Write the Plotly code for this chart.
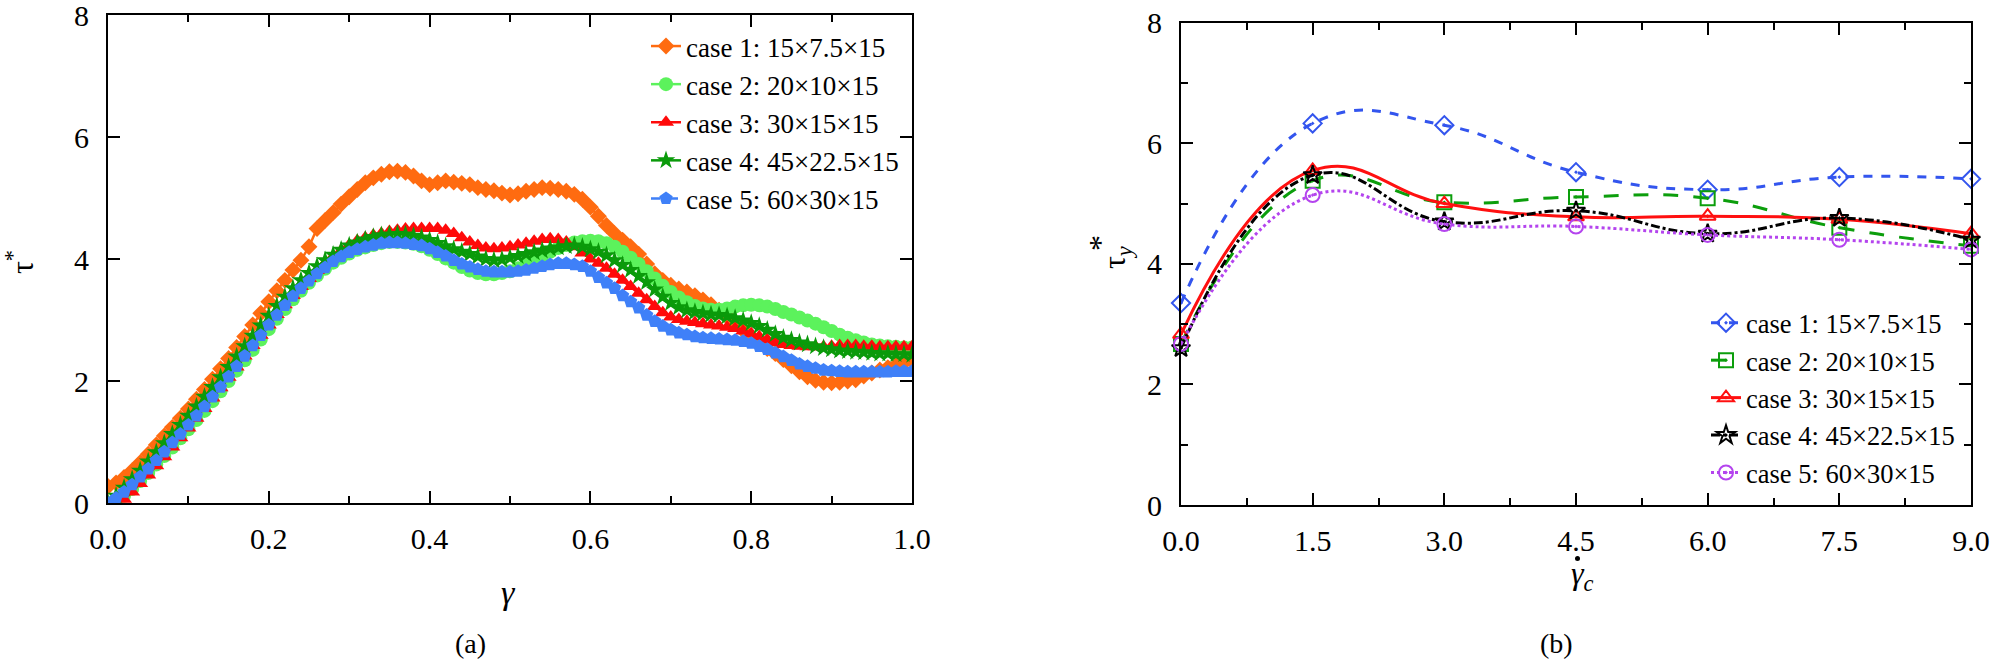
import plotly.graph_objects as go

# ---- (a) normalised stress vs strain, five mesh sizes ----
gamma = [round(i * 0.01, 2) for i in range(101)]

tau_case1 = [0.27, 0.33, 0.42, 0.53, 0.66, 0.80, 0.95, 1.10, 1.24, 1.39,
             1.54, 1.70, 1.86, 2.03, 2.20, 2.37, 2.55, 2.73, 2.92, 3.11,
             3.30, 3.48, 3.65, 3.82, 3.98, 4.20, 4.50, 4.63, 4.76, 4.90,
             5.02, 5.14, 5.25, 5.33, 5.39, 5.43, 5.44, 5.42, 5.36, 5.28,
             5.22, 5.25, 5.28, 5.26, 5.24, 5.22, 5.17, 5.14, 5.12, 5.08,
             5.05, 5.07, 5.11, 5.14, 5.17, 5.16, 5.14, 5.11, 5.06, 4.98,
             4.85, 4.70, 4.55, 4.42, 4.31, 4.20, 4.08, 3.92, 3.76, 3.65,
             3.57, 3.51, 3.46, 3.40, 3.33, 3.25, 3.16, 3.06, 2.95, 2.83,
             2.72, 2.62, 2.53, 2.45, 2.35, 2.25, 2.15, 2.07, 2.01, 1.98,
             1.97, 1.98, 2.00, 2.02, 2.08, 2.13, 2.18, 2.22, 2.26, 2.30,
             2.34]
tau_case2 = [0.00, 0.04, 0.12, 0.23, 0.36, 0.49, 0.63, 0.77, 0.91, 1.06,
             1.21, 1.36, 1.51, 1.67, 1.83, 2.00, 2.17, 2.34, 2.51, 2.68,
             2.85, 3.02, 3.18, 3.34, 3.48, 3.61, 3.73, 3.84, 3.94, 4.02,
             4.09, 4.15, 4.19, 4.23, 4.26, 4.28, 4.28, 4.27, 4.25, 4.21,
             4.15, 4.08, 4.01, 3.94, 3.87, 3.81, 3.77, 3.75, 3.75, 3.77,
             3.80, 3.85, 3.91, 3.98, 4.05, 4.12, 4.18, 4.23, 4.27, 4.29,
             4.30, 4.29, 4.26, 4.20, 4.12, 4.02, 3.92, 3.80, 3.68, 3.56,
             3.46, 3.37, 3.29, 3.23, 3.19, 3.17, 3.17, 3.19, 3.22, 3.24,
             3.25, 3.24, 3.22, 3.18, 3.13, 3.09, 3.04, 2.99, 2.94, 2.88,
             2.82, 2.76, 2.71, 2.67, 2.63, 2.60, 2.58, 2.57, 2.56, 2.55,
             2.55]
tau_case3 = [0.00, 0.00, 0.06, 0.18, 0.32, 0.46, 0.61, 0.76, 0.92, 1.07,
             1.23, 1.39, 1.55, 1.72, 1.89, 2.06, 2.23, 2.41, 2.58, 2.75,
             2.92, 3.09, 3.25, 3.40, 3.55, 3.68, 3.81, 3.93, 4.04, 4.14,
             4.23, 4.30, 4.35, 4.39, 4.42, 4.45, 4.47, 4.49, 4.50, 4.50,
             4.50, 4.50, 4.47, 4.42, 4.35, 4.28, 4.22, 4.18, 4.17, 4.18,
             4.20, 4.23, 4.26, 4.29, 4.32, 4.33, 4.32, 4.28, 4.20, 4.10,
             4.00, 3.93, 3.85, 3.75, 3.65, 3.55, 3.44, 3.33, 3.22, 3.12,
             3.05, 3.01, 2.98, 2.96, 2.94, 2.92, 2.90, 2.88, 2.86, 2.82,
             2.78, 2.73, 2.68, 2.63, 2.60, 2.58, 2.57, 2.56, 2.56, 2.56,
             2.57, 2.58, 2.58, 2.58, 2.57, 2.57, 2.56, 2.56, 2.56, 2.56,
             2.56]
tau_case4 = [0.00, 0.12, 0.25, 0.39, 0.53, 0.68, 0.83, 0.98, 1.13, 1.28,
             1.43, 1.58, 1.74, 1.90, 2.06, 2.23, 2.40, 2.57, 2.74, 2.91,
             3.07, 3.23, 3.38, 3.52, 3.65, 3.77, 3.88, 3.98, 4.07, 4.15,
             4.22, 4.27, 4.32, 4.36, 4.39, 4.40, 4.41, 4.40, 4.38, 4.35,
             4.31, 4.26, 4.21, 4.16, 4.12, 4.08, 4.04, 4.00, 3.98, 3.99,
             4.02, 4.05, 4.08, 4.11, 4.14, 4.17, 4.19, 4.21, 4.22, 4.20,
             4.16, 4.12, 4.06, 3.98, 3.90, 3.82, 3.72, 3.62, 3.50, 3.38,
             3.28, 3.21, 3.16, 3.13, 3.11, 3.09, 3.08, 3.06, 3.03, 2.99,
             2.95, 2.90, 2.84, 2.77, 2.71, 2.67, 2.63, 2.60, 2.57, 2.54,
             2.52, 2.50, 2.49, 2.48, 2.47, 2.46, 2.45, 2.45, 2.44, 2.44,
             2.43]
tau_case5 = [0.00, 0.08, 0.18, 0.30, 0.43, 0.56, 0.70, 0.84, 0.99, 1.13,
             1.28, 1.43, 1.58, 1.74, 1.90, 2.07, 2.24, 2.41, 2.58, 2.75,
             2.92, 3.08, 3.24, 3.39, 3.52, 3.64, 3.76, 3.86, 3.96, 4.04,
             4.11, 4.16, 4.20, 4.23, 4.26, 4.27, 4.27, 4.26, 4.24, 4.22,
             4.17, 4.11, 4.05, 3.98, 3.92, 3.87, 3.83, 3.80, 3.79, 3.79,
             3.79, 3.80, 3.82, 3.85, 3.88, 3.91, 3.93, 3.93, 3.91, 3.88,
             3.80, 3.70, 3.61, 3.52, 3.40, 3.30, 3.20, 3.08, 2.98, 2.90,
             2.84, 2.79, 2.76, 2.73, 2.71, 2.70, 2.69, 2.68, 2.67, 2.65,
             2.62, 2.57, 2.52, 2.46, 2.40, 2.34, 2.28, 2.24, 2.21, 2.18,
             2.17, 2.16, 2.15, 2.15, 2.15, 2.15, 2.15, 2.15, 2.16, 2.16,
             2.16]

# ---- (b) yield stress vs characteristic shear rate ----
rate = [0.0, 1.5, 3.0, 4.5, 6.0, 7.5, 9.0]
tauy_case1 = [3.35, 6.33, 6.30, 5.52, 5.23, 5.44, 5.41]
tauy_case2 = [2.67, 5.38, 5.02, 5.11, 5.09, 4.60, 4.30]
tauy_case3 = [2.83, 5.55, 5.00, 4.78, 4.79, 4.74, 4.50]
tauy_case4 = [2.60, 5.47, 4.70, 4.88, 4.50, 4.76, 4.40]
tauy_case5 = [2.67, 5.14, 4.66, 4.62, 4.48, 4.40, 4.24]

labels = ["case 1: 15×7.5×15", "case 2: 20×10×15", "case 3: 30×15×15",
          "case 4: 45×22.5×15", "case 5: 60×30×15"]

FONT = "Liberation Serif, Times New Roman, DejaVu Serif, serif"

fig = go.Figure()

# left panel
left_series = [tau_case1, tau_case2, tau_case3, tau_case4, tau_case5]
left_colors = ["#FF6B10", "#5CF25C", "#FF0A0A", "#0A9A0A", "#3F80F8"]
left_symbols = ["diamond", "circle", "triangle-up", "star", "pentagon"]
left_sizes = [13, 14, 14, 14, 14]
left_dash = ["solid", "solid", "solid", "solid", "dash"]

for i in range(5):
    fig.add_trace(go.Scatter(
        x=gamma, y=left_series[i], name=labels[i], mode="lines+markers",
        line=dict(color=left_colors[i], width=2.5, dash=left_dash[i]),
        marker=dict(symbol=left_symbols[i], size=left_sizes[i], color=left_colors[i]),
        xaxis="x", yaxis="y", legend="legend", legendgroup="a%d" % i,
    ))

# right panel
right_series = [tauy_case1, tauy_case2, tauy_case3, tauy_case4, tauy_case5]
right_colors = ["#3355EE", "#0C9E0C", "#FF1010", "#000000", "#B444EE"]
right_symbols = ["diamond-open-dot", "square-open-dot", "triangle-up-open-dot",
                 "star-open-dot", "circle-open-dot"]
right_dash = ["dash", "longdash", "solid", "dashdot", "dot"]

for i in range(5):
    fig.add_trace(go.Scatter(
        x=rate, y=right_series[i], name=labels[i], mode="lines+markers",
        line=dict(color=right_colors[i], width=3, dash=right_dash[i],
                  shape="spline", smoothing=1.3),
        marker=dict(symbol=right_symbols[i], size=14, color=right_colors[i],
                    line=dict(color=right_colors[i], width=2)),
        cliponaxis=False,
        xaxis="x2", yaxis="y2", legend="legend2", legendgroup="b%d" % i,
    ))

W, H = 1992, 660

# automargin off, otherwise the edge tick labels shrink the plot area
axis_style = dict(
    showline=True, linecolor="black", linewidth=2, mirror="ticks",
    ticks="inside", ticklen=12, tickwidth=2, tickcolor="black",
    showgrid=False, zeroline=False, automargin=False, ticklabeloverflow="allow",
    tickfont=dict(family=FONT, size=30, color="black"),
)
minor_style = dict(ticks="inside", ticklen=7, tickwidth=2, tickcolor="black")

fig.update_layout(
    width=W, height=H,
    margin=dict(l=0, r=0, t=0, b=0),
    paper_bgcolor="white", plot_bgcolor="white",
    font=dict(family=FONT, color="black"),
    xaxis=dict(domain=[108 / W, 912 / W], range=[0, 1], dtick=0.2, tickformat=".1f",
               minor=dict(dtick=0.1, **minor_style),
               anchor="y", ticklabelstandoff=8, **axis_style),
    yaxis=dict(domain=[1 - 503 / H, 1 - 15 / H], range=[0, 8], dtick=2,
               anchor="x", ticklabelstandoff=11, **axis_style),
    xaxis2=dict(domain=[1181 / W, 1971 / W], range=[0, 9], dtick=1.5, tickformat=".1f",
                minor=dict(dtick=0.75, **minor_style),
                anchor="y2", ticklabelstandoff=8, **axis_style),
    yaxis2=dict(domain=[1 - 505 / H, 1 - 22.7 / H], range=[0, 8], dtick=2,
                minor=dict(dtick=1, **minor_style),
                anchor="x2", ticklabelstandoff=11, **axis_style),
    legend=dict(x=646 / W, y=1 - 22 / H, xanchor="left", yanchor="top",
                bgcolor="rgba(0,0,0,0)", tracegroupgap=0,
                font=dict(family=FONT, size=27, color="black")),
    legend2=dict(x=1706 / W, y=1 - 299 / H, xanchor="left", yanchor="top",
                 bgcolor="rgba(0,0,0,0)", tracegroupgap=0,
                 font=dict(family=FONT, size=26.5, color="black")),
    showlegend=True,
)

# axis titles and panel labels as annotations (x, y in pixels from top-left)
notes = [
    dict(text="τ<sup>*</sup>", x=20, y=262, size=32, angle=-90, anchor="middle"),
    dict(text="<i>γ</i>", x=508, y=592, size=34, angle=0, anchor="middle"),
    dict(text="(a)", x=470, y=643, size=28, angle=0, anchor="middle"),
    dict(text="τ<sub><i>y</i></sub>", x=1116, y=258, size=32, angle=-90, anchor="middle"),
    dict(text="*", x=1100, y=243, size=32, angle=-90, anchor="middle"),
    dict(text="<i>γ<sub>c</sub></i>", x=1582, y=553, size=32, angle=0, anchor="top"),
    dict(text="(b)", x=1556, y=643, size=28, angle=0, anchor="middle"),
]
for n in notes:
    fig.add_annotation(text=n["text"], x=n["x"] / W, y=1 - n["y"] / H,
                       xref="paper", yref="paper", showarrow=False,
                       textangle=n["angle"], xanchor="center", yanchor=n["anchor"],
                       font=dict(family=FONT, size=n["size"], color="black"))

# the dot over gamma (shear rate)
fig.add_shape(type="circle", xref="paper", yref="paper",
              x0=1575 / W, x1=1580 / W, y0=1 - 561 / H, y1=1 - 556 / H,
              fillcolor="black", line=dict(width=0))

fig.write_html("out.html", config={"displayModeBar": False},
               post_script="document.body.style.margin='0';")
